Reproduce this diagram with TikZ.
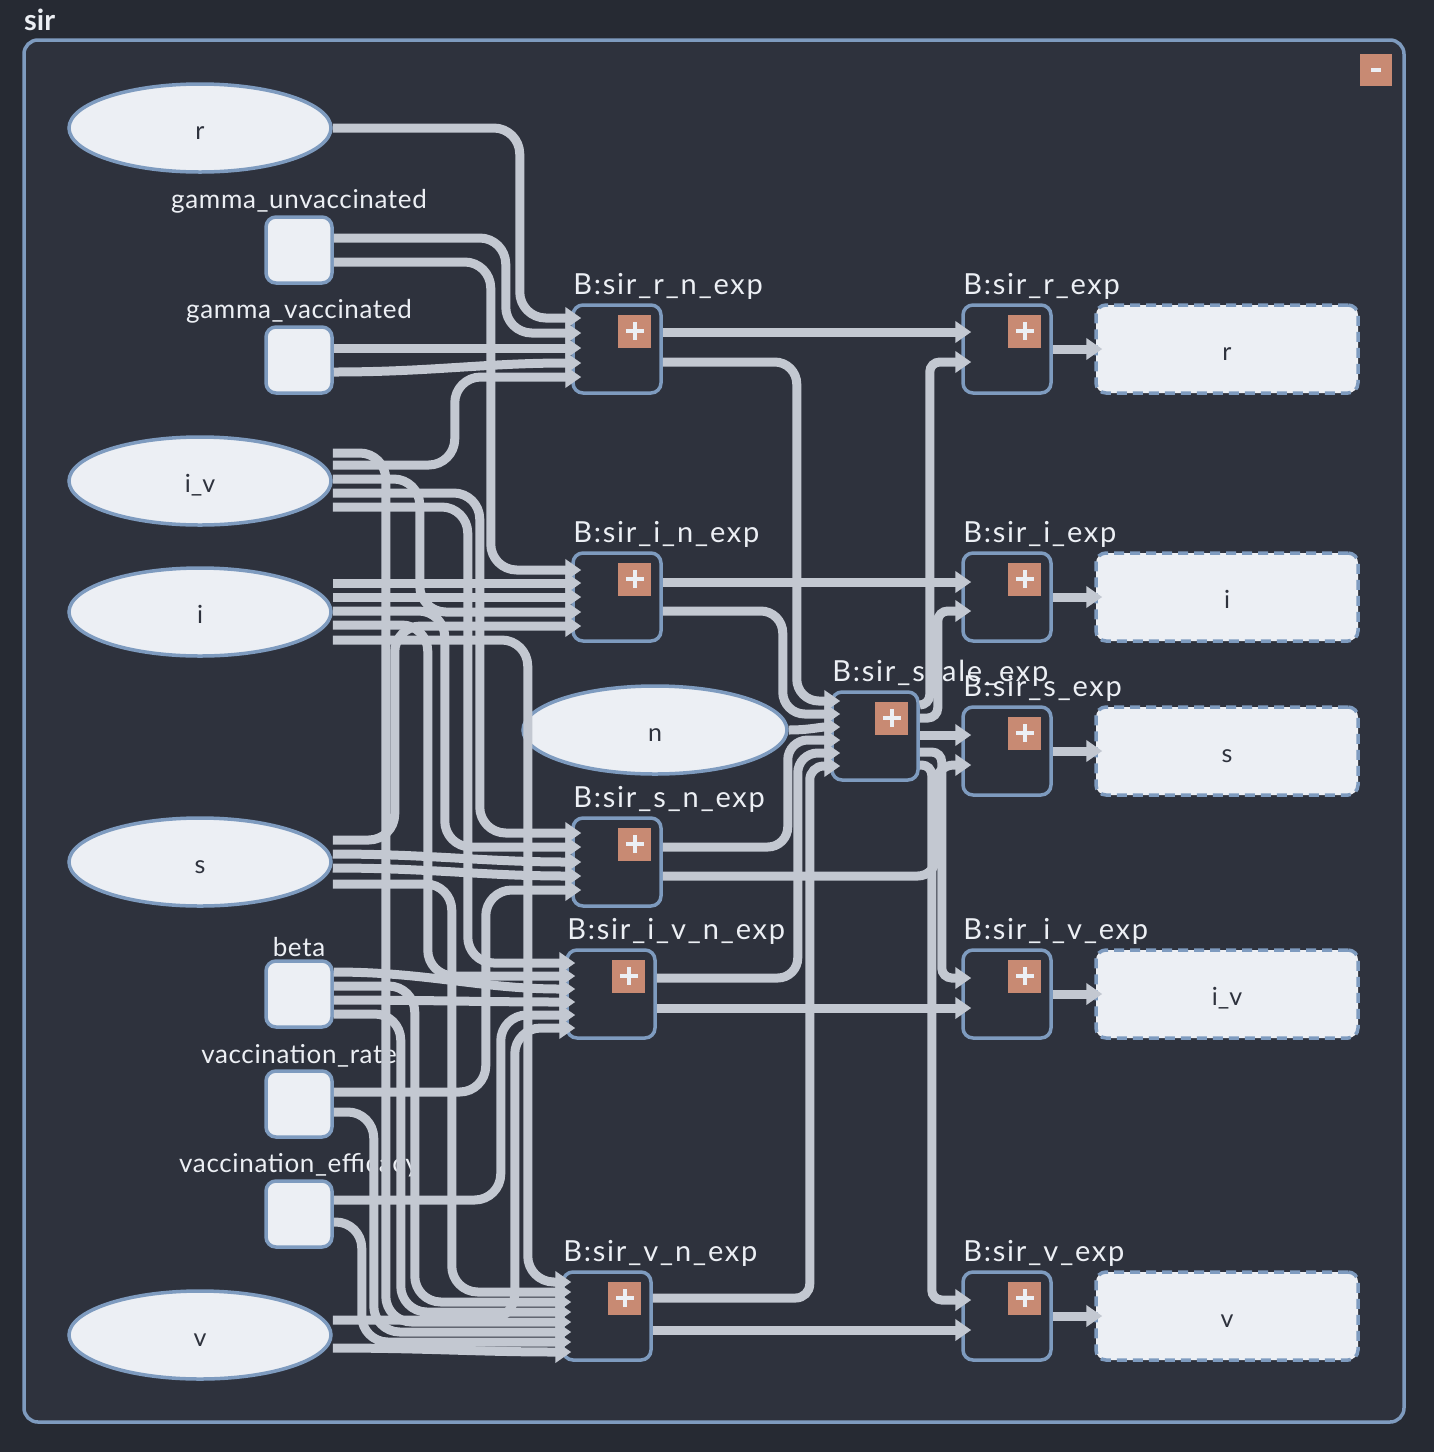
\documentclass[tikz,border=0pt]{standalone}
\usepackage{fontspec}
\setmainfont{Lato}
\usetikzlibrary{shapes.geometric,arrows.meta,calc}

\definecolor{bgout}{HTML}{262A33}
\definecolor{bgin}{HTML}{2E323D}
\definecolor{steel}{HTML}{7E9BBF}
\definecolor{wirec}{HTML}{C3C8D1}
\definecolor{paper}{HTML}{ECEFF4}
\definecolor{btn}{HTML}{C88A73}

% source, source offset, run to channel, target, target offset
\newcommand{\wire}[6][]{\draw[wire,#1] ($(#2)+(0,#3)$) -- ++(#4,0) |- ($(#5.west)+(10,#6)$);}
\newcommand{\jog}[4]{\draw[wire] ($(#1)+(0,#2)$) to[out=0,in=180] ($(#3.west)+(10,#4)$);}

\begin{document}
\begin{tikzpicture}[
		x=1pt, y=-1pt,
		var/.style={
			ellipse, draw=steel, fill=paper, line width=3.5pt,
			minimum width=262pt, minimum height=88pt, inner sep=0pt,
			text=bgin, font=\fontsize{25}{27}\selectfont, text height=22pt, text depth=0pt
		},
		param/.style={rectangle, rounded corners=10pt, draw=steel, fill=paper, line width=3.5pt, minimum size=66pt},
		plbl/.style={text=paper, font=\fontsize{26}{28}\selectfont\addfontfeatures{LetterSpace=2.5}, inner sep=2pt},
		block/.style={rectangle, rounded corners=10pt, draw=steel, line width=3.5pt, minimum width=88pt, minimum height=88pt},
		blbl/.style={anchor=south west, text=paper, font=\fontsize{29}{31}\selectfont\addfontfeatures{LetterSpace=6}, inner sep=0pt, xshift=2pt, yshift=4pt},
		result/.style={
			rectangle, rounded corners=10pt, draw=steel, fill=paper, line width=3.5pt,
			dash pattern=on 10pt off 6pt, minimum width=262pt, minimum height=88pt,
			text=bgin, font=\fontsize{25}{27}\selectfont, text height=22pt, text depth=0pt
		},
		wire/.style={draw=wirec, line width=9pt, rounded corners=26pt, -{Triangle[length=16pt,width=21pt]}},
		plusbtn/.pic={
			\fill[btn] (-16.5,-16.5) rectangle (16.5,16.5);
			\draw[paper, line width=4pt] (-9,0) -- (9,0) (0,-9) -- (0,9);
		}
		]

	\useasboundingbox (0,0) rectangle (1434,1452);
	\fill[bgout] (0,0) rectangle (1434,1452);
	\node[anchor=base west, inner sep=0pt, text=paper, font=\bfseries\fontsize{29}{31}\selectfont] (title) at (24,30) {sir};
	\draw[steel, fill=bgin, line width=3.5pt, rounded corners=14pt] (24,40) rectangle (1404,1422);
	\fill[btn] (1360,54) rectangle (1392,86);
	\fill[paper] (1371,68) rectangle (1381,72);

	% left column
	\node[var] (r) at (200,128) {r};
	\node[param, label={[plbl]above:gamma\_unvaccinated}] (gu) at (299,250) {};
	\node[param, label={[plbl]above:gamma\_vaccinated}] (gv) at (299,360) {};
	\node[var] (iv) at (200,481) {i\_v};
	\node[var] (i) at (200,612) {i};
	\node[var] (s) at (200,862) {s};
	\node[param, label={[plbl]above:beta}] (beta) at (299,994) {};
	\node[param, label={[plbl]above:vaccination\_rate}] (vr) at (299,1104) {};
	\node[param, label={[plbl]above:vaccination\_efficacy}] (ve) at (299,1214) {};
	\node[var] (v) at (200,1335) {v};
	\node[var, minimum width=264pt] (n) at (655,730) {n};

	% blocks
	\node[block, label={[blbl]north west:{B:sir\_r\_n\_exp}}] (rnexp) at (617,349) {};
	\node[block, label={[blbl]north west:{B:sir\_i\_n\_exp}}] (inexp) at (617,597) {};
	\node[block, label={[blbl]north west:{B:sir\_s\_n\_exp}}] (snexp) at (617,862) {};
	\node[block, label={[blbl]north west:{B:sir\_i\_v\_n\_exp}}] (ivnexp) at (611,994) {};
	\node[block, label={[blbl]north west:{B:sir\_v\_n\_exp}}] (vnexp) at (607,1316) {};
	\node[block, minimum width=86pt, label={[blbl]north west:{B:sir\_scale\_exp}}] (scale) at (875,736) {};
	\node[block, label={[blbl]north west:{B:sir\_r\_exp}}] (rexp) at (1007,349) {};
	\node[block, label={[blbl]north west:{B:sir\_i\_exp}}] (iexp) at (1007,597) {};
	\node[block, label={[blbl]north west:{B:sir\_s\_exp}}] (sexp) at (1007,751) {};
	\node[block, label={[blbl]north west:{B:sir\_i\_v\_exp}}] (ivexp) at (1007,994) {};
	\node[block, label={[blbl]north west:{B:sir\_v\_exp}}] (vexp) at (1007,1316) {};

	% results
	\node[result] (rout) at (1227,349) {r};
	\node[result] (iout) at (1227,597) {i};
	\node[result] (sout) at (1227,751) {s};
	\node[result] (ivout) at (1227,994) {i\_v};
	\node[result] (vout) at (1227,1316) {v};

	% into r_n
	\wire{r.east}{0}{187}{rnexp}{-31}
	\wire{gu.east}{-12}{172}{rnexp}{-16}
	\jog{gv.east}{-12}{rnexp}{-1}
	\jog{gv.east}{12}{rnexp}{14}
	\wire{iv.east}{-16}{122}{rnexp}{28}
	% into i_n
	\wire{gu.east}{12}{157}{inexp}{-27}
	\jog{i.east}{-29}{inexp}{-14}
	\jog{i.east}{-15}{inexp}{0}
	\wire{iv.east}{-2}{87}{inexp}{15}
	\wire{s.east}{-22}{62}{inexp}{29}
	% into s_n
	\wire{iv.east}{12}{147}{snexp}{-29}
	\wire{i.east}{-1}{112}{snexp}{-15}
	\jog{s.east}{-8}{snexp}{0}
	\jog{s.east}{6}{snexp}{14}
	\wire{vr.east}{-12}{152}{snexp}{28}
	% into i_v_n
	\wire{iv.east}{26}{135}{ivnexp}{-31}
	\wire{i.east}{13}{95}{ivnexp}{-18}
	\jog{beta.east}{-22}{ivnexp}{-5}
	\jog{beta.east}{6}{ivnexp}{8}
	\wire{ve.east}{-14}{167}{ivnexp}{21}
	\wire{v.east}{-15}{182}{ivnexp}{34}
	% into v_n
	\wire{i.east}{28}{195}{vnexp}{-34}
	\wire{s.east}{22}{119}{vnexp}{-24}
	\wire{beta.east}{-8}{81}{vnexp}{-14}
	\wire{beta.east}{20}{67}{vnexp}{-4}
	\wire{iv.east}{-28}{53}{vnexp}{6}
	\wire{vr.east}{8}{40}{vnexp}{16}
	\wire{ve.east}{8}{28}{vnexp}{26}
	\jog{v.east}{13}{vnexp}{36}

	% middle
	\draw[wire] ($(rnexp.east)+(0,-17)$) -- ($(rexp.west)+(10,-17)$);
	\wire[rounded corners=22pt]{rnexp.east}{13}{134}{scale}{-35}
	\draw[wire] ($(inexp.east)+(0,-15)$) -- ($(iexp.west)+(10,-15)$);
	\wire[rounded corners=22pt]{inexp.east}{14}{120}{scale}{-22}
	\jog{n.east}{0}{scale}{-9}
	\wire[rounded corners=20pt]{snexp.east}{-15}{125}{scale}{4}
	\wire[rounded corners=18pt]{snexp.east}{14}{273}{sexp}{14}
	\wire[rounded corners=20pt]{ivnexp.east}{-16}{141}{scale}{17}
	\draw[wire] ($(ivnexp.east)+(0,14)$) -- ($(ivexp.west)+(10,14)$);
	\wire[rounded corners=14pt]{vnexp.east}{-18}{157}{scale}{30}
	\draw[wire] ($(vnexp.east)+(0,14)$) -- ($(vexp.west)+(10,14)$);

	% scale out
	\wire[rounded corners=10pt]{scale.east}{-31}{10}{rexp}{13}
	\wire[rounded corners=10pt]{scale.east}{-18}{18}{iexp}{14}
	\draw[wire] ($(scale.east)+(0,-1)$) -- ($(sexp.west)+(10,-16)$);
	\wire[rounded corners=10pt]{scale.east}{16}{22}{ivexp}{-16}
	\wire[rounded corners=10pt]{scale.east}{29}{12}{vexp}{-16}

	% to results
	\draw[wire] (rexp.east) -- ($(rout.west)+(8,0)$);
	\draw[wire] (iexp.east) -- ($(iout.west)+(8,0)$);
	\draw[wire] (sexp.east) -- ($(sout.west)+(8,0)$);
	\draw[wire] (ivexp.east) -- ($(ivout.west)+(8,0)$);
	\draw[wire] (vexp.east) -- ($(vout.west)+(8,0)$);

	\foreach \b in {rnexp,inexp,snexp,ivnexp,vnexp,scale,rexp,iexp,sexp,ivexp,vexp}
		\pic at ($(\b.north east)+(-28,28)$) {plusbtn};
\end{tikzpicture}
\end{document}
